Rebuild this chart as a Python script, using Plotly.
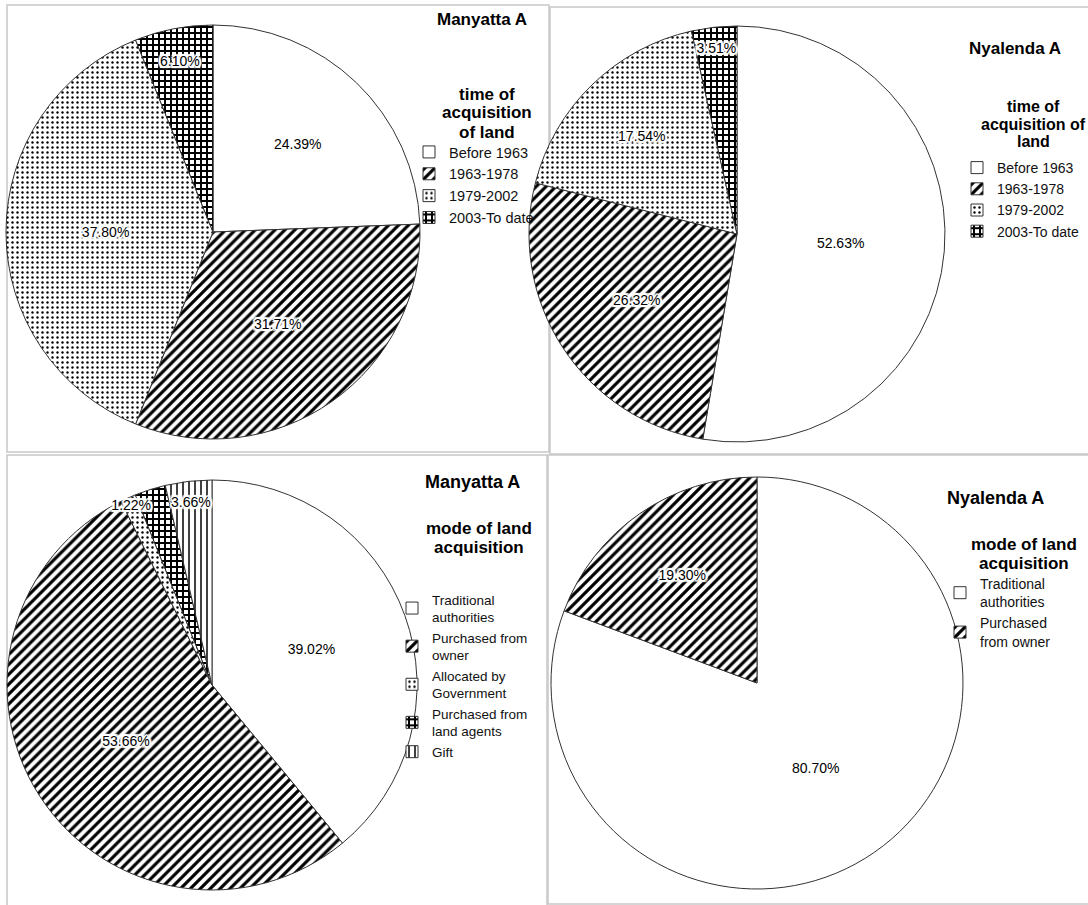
import plotly.graph_objects as go

W, H = 1088, 905

# ---------------- data ----------------
time_labels = ["Before 1963", "1963-1978", "1979-2002", "2003-To date"]
manyatta_time = [24.39, 31.71, 37.80, 6.10]
nyalenda_time = [52.63, 26.32, 17.54, 3.51]

mode_labels_m = ["Traditional<br>authorities", "Purchased from<br>owner",
                 "Allocated by<br>Government", "Purchased from<br>land agents", "Gift"]
manyatta_mode = [39.02, 53.66, 1.22, 2.44, 3.66]
manyatta_mode_shown = [True, True, True, False, True]

mode_labels_n = ["Traditional<br>authorities", "Purchased<br>from owner"]
nyalenda_mode = [80.70, 19.30]

# ---------------- styles ----------------
FONT = "Liberation Sans, Arial, sans-serif"
PAT = {
    "none": ("", 8, 0.3),
    "stripe": ("/", 7, 0.45),
    "dots": (".", 5, 0.18),
    "check": ("+", 6, 0.55),
    "vert": ("|", 6, 0.25),
}
time_pat = ["none", "stripe", "dots", "check"]
mode_pat_m = ["none", "stripe", "dots", "check", "vert"]
mode_pat_n = ["none", "stripe"]
HALO = ("1px 1px 0 #fff, -1px -1px 0 #fff, 1px -1px 0 #fff, -1px 1px 0 #fff, "
        "2px 0 0 #fff, -2px 0 0 #fff, 0 2px 0 #fff, 0 -2px 0 #fff, "
        "2px 2px 1px #fff, -2px -2px 1px #fff, 2px -2px 1px #fff, -2px 2px 1px #fff, "
        "0 0 5px #fff")


def px_dom(x0, x1, y0, y1):
    return dict(x=[x0 / W, x1 / W], y=[1 - y1 / H, 1 - y0 / H])


def pie(fig, labels, values, pats, dom, legend, shown=None, suffix="", fsize=14):
    shapes = [PAT[p][0] for p in pats]
    sizes = [PAT[p][1] for p in pats]
    sol = [PAT[p][2] for p in pats]
    flags = shown if shown is not None else [True] * len(values)
    tt = ["%{value:.2f}%" if s else "" for s in flags]
    labs = [l + suffix for l in labels]
    common = dict(labels=labs, values=values, sort=False, direction="clockwise",
                  rotation=0, domain=dom)
    # slices
    fig.add_trace(go.Pie(
        **common, legend=legend,
        marker=dict(colors=["white"] * len(values),
                    line=dict(color="#333333", width=1),
                    pattern=dict(shape=shapes, size=sizes, solidity=sol,
                                 fgcolor="black", bgcolor="white", fillmode="replace")),
        texttemplate=[""] * len(values), textposition="inside",
        hoverinfo="label+percent",
    ))
    # percentage labels drawn on top of every slice
    fig.add_trace(go.Pie(
        **common, showlegend=False, hoverinfo="skip",
        marker=dict(colors=["rgba(0,0,0,0)"] * len(values), line=dict(width=0)),
        texttemplate=tt, textposition="inside", insidetextorientation="horizontal",
        textfont=dict(family=FONT, size=fsize, color="black", shadow=HALO),
    ))


fig = go.Figure()
pie(fig, time_labels, manyatta_time, time_pat, px_dom(6, 420, 25, 439), "legend")
pie(fig, time_labels, nyalenda_time, time_pat, px_dom(529, 945, 26, 442), "legend2",
    suffix="\u200b")
pie(fig, mode_labels_m, manyatta_mode, mode_pat_m, px_dom(7, 417, 480, 890), "legend3",
    shown=manyatta_mode_shown)
pie(fig, mode_labels_n, nyalenda_mode, mode_pat_n, px_dom(551, 963, 477, 889), "legend4",
    suffix="\u200b")


def leg(xpx, ypx, fsize):
    return dict(
        x=xpx / W, y=1 - ypx / H, xanchor="left", yanchor="top",
        bgcolor="rgba(0,0,0,0)", borderwidth=0, itemwidth=30,
        font=dict(family=FONT, size=fsize, color="#111111"),
        traceorder="normal",
    )


border = "#c8c8c8"
panels = [(7, 549, 5, 452), (550, 1095, 7, 454), (7, 547, 455, 912), (548, 1095, 455, 904)]
shapes = [dict(type="rect", xref="paper", yref="paper",
               x0=a / W, x1=b / W, y0=1 - d / H, y1=1 - c / H,
               line=dict(color=border, width=1.5), layer="below")
          for a, b, c, d in panels]

annotations = []


def label(text, x, y, size):
    annotations.append(dict(text=text, x=x / W, y=1 - y / H, xref="paper", yref="paper",
                            showarrow=False, xanchor="center", yanchor="middle",
                            font=dict(family=FONT, size=size, color="black", weight="bold")))


# chart titles
label("Manyatta A", 482, 20, 17)
label("Nyalenda A", 1015, 48, 17)
label("Manyatta A", 472, 482, 18)
label("Nyalenda A", 995, 498, 18)

# legend titles (one annotation per line, centred)
for i, t in enumerate(["time of", "acquisition", "of land"]):
    label(t, 487, 94 + 19 * i, 17)
for i, t in enumerate(["time of", "acquisition of", "land"]):
    label(t, 1033, 107 + 17.5 * i, 16)
for i, t in enumerate(["mode of land", "acquisition"]):
    label(t, 479, 528 + 19 * i, 17)
for i, t in enumerate(["mode of land", "acquisition"]):
    label(t, 1024, 544 + 19 * i, 17)

fig.update_layout(
    width=W, height=H, margin=dict(l=0, r=0, t=0, b=0),
    paper_bgcolor="white", plot_bgcolor="white",
    showlegend=True,
    legend=leg(409, 136, 14.5),
    legend2=leg(957, 152, 14),
    legend3=leg(392, 584, 13.5),
    legend4=leg(940, 568, 14),
    uniformtext=dict(minsize=14, mode="show"),
    shapes=shapes, annotations=annotations,
)

fig.write_html("out.html")
